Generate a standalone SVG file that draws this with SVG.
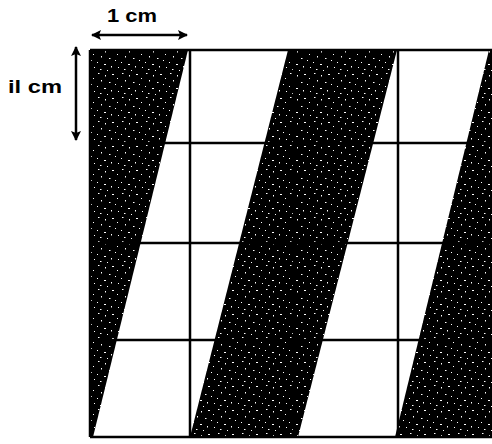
<svg xmlns="http://www.w3.org/2000/svg" width="492" height="444" viewBox="0 0 492 444">
<style>
.lbl{font-family:"Liberation Sans",Arial,sans-serif;font-weight:bold;font-size:19px;fill:#000}
.grid{stroke:#000;stroke-width:2.5;fill:none}
.dim{stroke:#000;stroke-width:2.5;fill:none}
.band{fill:url(#stipple)}
</style>
<defs>
<pattern id="stipple" width="24" height="24" patternUnits="userSpaceOnUse">
<rect width="24" height="24" fill="#000"/>
<g fill="#fff">
<rect x="2" y="1" width="1.5" height="1"/>
<rect x="9" y="3" width="1" height="1.5"/>
<rect x="16" y="2" width="2" height="1"/>
<rect x="21" y="6" width="1" height="1"/>
<rect x="5" y="8" width="1" height="1.5"/>
<rect x="13" y="10" width="1.5" height="1"/>
<rect x="19" y="12" width="1" height="1"/>
<rect x="1" y="14" width="1" height="1"/>
<rect x="8" y="16" width="2" height="1"/>
<rect x="15" y="18" width="1" height="1.5"/>
<rect x="22" y="19" width="1" height="1"/>
<rect x="4" y="21" width="1.5" height="1"/>
<rect x="11" y="22" width="1" height="1"/>
</g>
</pattern>
<marker id="ah" viewBox="0 0 10 10" refX="9" refY="5" markerWidth="4.5" markerHeight="4" orient="auto-start-reverse" markerUnits="strokeWidth">
<path d="M0,0 L10,5 L0,10 L2,5 Z" fill="#000"/>
</marker>
</defs>
<g id="bands">
<polygon id="band1" class="band" points="90,50 188,50 93,437 90,437"/>
<polygon id="band2" class="band" points="288,50 397,50 298,437 190,437"/>
<polygon id="band3" class="band" points="489,50 492,50 492,437 395,437"/>
</g>
<g id="grid">
<line class="grid" x1="90" y1="50" x2="492" y2="50"/>
<line class="grid" x1="90" y1="143" x2="492" y2="143"/>
<line class="grid" x1="90" y1="243" x2="492" y2="243"/>
<line class="grid" x1="90" y1="340" x2="492" y2="340"/>
<line class="grid" x1="90" y1="437" x2="492" y2="437"/>
<line class="grid" x1="90" y1="50" x2="90" y2="437"/>
<line class="grid" x1="190" y1="50" x2="190" y2="437"/>
<line class="grid" x1="294" y1="50" x2="294" y2="437"/>
<line class="grid" x1="398" y1="50" x2="398" y2="437"/>
</g>
<g id="connectors">
<line class="dim" x1="92" y1="35" x2="187" y2="35" marker-start="url(#ah)" marker-end="url(#ah)"/>
<line class="dim" x1="76" y1="47" x2="76" y2="140" marker-start="url(#ah)" marker-end="url(#ah)"/>
</g>
<g id="labels">
<text class="lbl" x="107" y="22" textLength="50" lengthAdjust="spacingAndGlyphs">1 cm</text>
<text class="lbl" x="8" y="93" textLength="54" lengthAdjust="spacingAndGlyphs">il cm</text>
</g>
</svg>
